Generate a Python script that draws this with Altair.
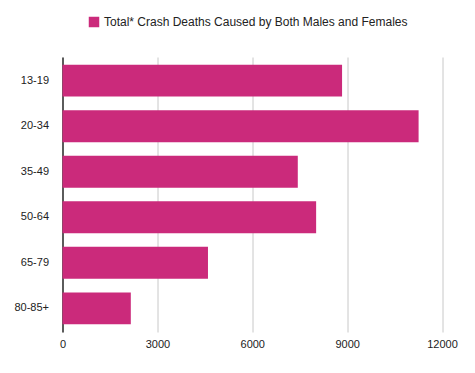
import altair as alt
import pandas as pd

ages = ["13-19", "20-34", "35-49", "50-64", "65-79", "80-85+"]
deaths = [8840, 11260, 7440, 8020, 4600, 2160]
series_name = "Total* Crash Deaths Caused by Both Males and Females"
x_ticks = [0, 3000, 6000, 9000, 12000]

df = pd.DataFrame({"age": ages, "deaths": deaths, "series": [series_name] * len(ages)})

FONT = "Liberation Sans"

chart = alt.Chart(df).mark_bar(color="#CB2A7B").encode(
    y=alt.Y("age:N", sort=ages,
            scale=alt.Scale(paddingInner=0.3, paddingOuter=0.17),
            axis=alt.Axis(title=None, domain=True, domainColor="#000000", domainWidth=1.2,
                          ticks=False, labelPadding=14, labelFontSize=11,
                          labelFont=FONT, labelColor="#222222", grid=False)),
    x=alt.X("deaths:Q", scale=alt.Scale(domain=[0, 12000], nice=False),
            axis=alt.Axis(title=None, values=x_ticks, domain=False, ticks=False,
                          grid=True, gridColor="#c8c8c8", gridWidth=1,
                          labelFlush=False,
                          labelPadding=6, labelFontSize=11, labelFont=FONT,
                          labelColor="#222222", format="d")),
    color=alt.Color("series:N", scale=alt.Scale(range=["#CB2A7B"]),
                    legend=alt.Legend(title=None, orient="none", legendX=25.5, legendY=-41,
                                      symbolType="square", symbolSize=110,
                                      symbolStrokeWidth=0, labelFontSize=12,
                                      labelFont=FONT, labelColor="#222222",
                                      labelLimit=500, symbolOffset=0)),
).properties(
    width=379.5, height=275,
    background="white",
    autosize=alt.AutoSizeParams(type="none"),
    padding={"left": 54.5, "top": 49, "right": 25, "bottom": 30},
).configure_view(strokeWidth=0, stroke=None)

chart.save("out.html", embed_options={"renderer": "svg", "actions": False})
